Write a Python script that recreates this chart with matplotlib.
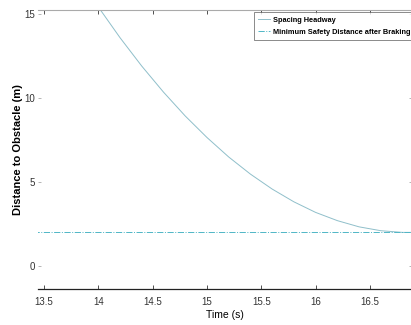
import matplotlib
matplotlib.use("Agg")
import matplotlib.pyplot as plt

time_s = [13.95, 14.2, 14.4, 14.6, 14.8, 15.0, 15.2, 15.4, 15.6, 15.8, 16.0, 16.2, 16.4, 16.6, 16.8, 16.9]
spacing_headway = [15.88, 13.59, 11.90, 10.35, 8.93, 7.65, 6.49, 5.47, 4.58, 3.82, 3.19, 2.70, 2.33, 2.10, 2.00, 2.00]
min_safety_t = [13.4, 17.0]
min_safety_d = [2.0, 2.0]
xticks = [13.5, 14, 14.5, 15, 15.5, 16, 16.5]
yticks = [0, 5, 10, 15]

font = 'Liberation Sans'

fig = plt.figure(figsize=(4.11, 3.25), dpi=100)
ax = fig.add_axes([38/411, 36/325, 374/411, 279/325])

ax.plot(time_s, spacing_headway, color='#8fbfca', lw=0.7, label='Spacing Headway')
ax.plot(min_safety_t, min_safety_d, color='#4fb6c6', lw=0.7, ls='-.', label='Minimum Safety Distance after Braking')

ax.set_xlim(13.445, 16.887)
ax.set_ylim(-1.37, 15.24)
ax.set_xticks(xticks)
ax.set_xticklabels([f"{v:g}" for v in xticks], family=font, fontsize=7)
ax.set_yticks(yticks)
ax.set_yticklabels([str(v) for v in yticks], family=font, fontsize=7)

ax.spines['left'].set_visible(False)
ax.spines['right'].set_visible(False)
ax.spines['top'].set_color('#aaaaaa')
ax.spines['top'].set_linewidth(0.8)
ax.spines['bottom'].set_color('#222222')
ax.spines['bottom'].set_linewidth(0.9)
ax.tick_params(axis='x', direction='in', length=3, width=0.6, top=True, colors='#333333', pad=6)
ax.tick_params(axis='y', direction='in', length=2, width=0.5, right=True, colors='#999999', labelcolor='#333333', pad=2)

ax.set_xlabel('Time (s)', family=font, fontsize=7.5, labelpad=2)
ax.set_ylabel('Distance to Obstacle (m)', fontsize=8, fontweight='bold', family=font, labelpad=1)

leg = ax.legend(loc='upper left', bbox_to_anchor=(254/411, 1 - 12/325), bbox_transform=fig.transFigure,
                prop={'family': font, 'weight': 'bold', 'size': 5.3}, frameon=True, fancybox=False,
                handlelength=1.6, handletextpad=0.4, borderpad=0.6, labelspacing=0.7, borderaxespad=0)
leg.get_frame().set_edgecolor('#555555')
leg.get_frame().set_linewidth(0.6)

fig.savefig('out.png', dpi=100)
